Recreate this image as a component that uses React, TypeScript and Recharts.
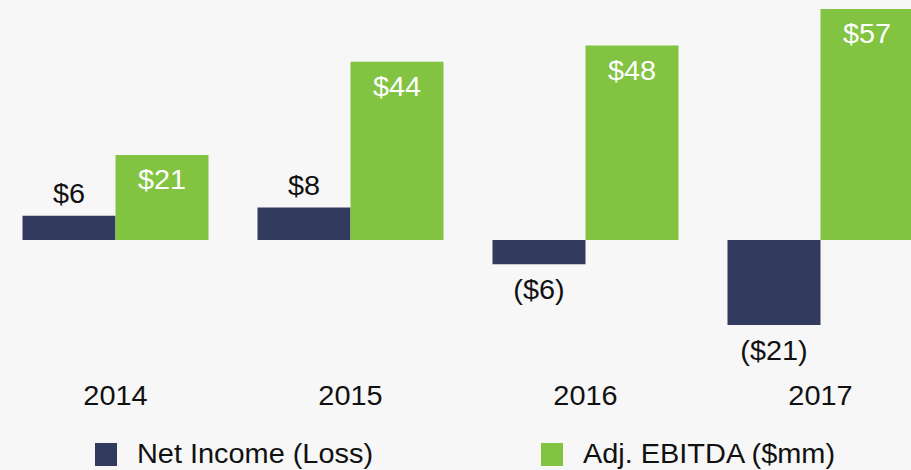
import React from "react";
import { BarChart, Bar, XAxis, YAxis, Legend, LabelList } from "recharts";

const years = ["2014", "2015", "2016", "2017"];
const netIncome = [6, 8, -6, -21];
const adjEbitda = [21, 44, 48, 57];

const NAVY = "#323a5e";
const GREEN = "#82c341";
const FONT = "'Liberation Sans', Arial, Helvetica, sans-serif";
const FS = 27;
const SX = 1.07; // reference text is slightly wide

const data = years.map((year, i) => ({
  year,
  net: netIncome[i],
  ebitda: adjEbitda[i],
}));

const fmt = (v: number) => (v < 0 ? `($${Math.abs(v)})` : `$${v}`);

function WideText({ x, y, fill, children }: any) {
  return (
    <text
      x={x}
      y={y}
      textAnchor="middle"
      fill={fill}
      fontSize={FS}
      fontFamily={FONT}
      transform={`translate(${x} 0) scale(${SX} 1) translate(${-x} 0)`}
    >
      {children}
    </text>
  );
}

function NetLabel(props: any) {
  const { x, y, width, height, value } = props;
  const top = Math.min(y, y + height);
  const bottom = Math.max(y, y + height);
  const ty = value < 0 ? bottom + 35 : top - 13;
  return (
    <WideText x={x + width / 2} y={ty} fill="#111">
      {fmt(value)}
    </WideText>
  );
}

function EbitdaLabel(props: any) {
  const { x, y, width, value } = props;
  return (
    <WideText x={x + width / 2} y={y + 34} fill="#fff">
      {fmt(value)}
    </WideText>
  );
}

function YearTick(props: any) {
  const { x, y, payload } = props;
  return (
    <WideText x={x} y={y + 36} fill="#111">
      {payload.value}
    </WideText>
  );
}

function LegendBox() {
  const items = [
    { name: "Net Income (Loss)", color: NAVY, left: 97 },
    { name: "Adj. EBITDA ($mm)", color: GREEN, left: 543 },
  ];
  return (
    <div style={{ position: "relative", height: 40, fontFamily: FONT }}>
      {items.map((it) => (
        <div key={it.name} style={{ position: "absolute", left: it.left, top: 11, display: "flex", alignItems: "center" }}>
          <span style={{ display: "inline-block", width: 22, height: 23, background: it.color }} />
          <span
            style={{
              marginLeft: 20,
              fontSize: FS,
              color: "#111",
              lineHeight: "26px",
              whiteSpace: "nowrap",
              transform: `scaleX(${SX})`,
              transformOrigin: "left center",
            }}
          >
            {it.name}
          </span>
        </div>
      ))}
    </div>
  );
}

export default function App() {
  return (
    <div
      style={{
        position: "fixed",
        left: 0,
        top: 0,
        width: 911,
        height: 470,
        overflow: "hidden",
        background: "#f7f7f7",
      }}
    >
      <div style={{ position: "absolute", left: -2, top: 0 }}>
        <BarChart
          width={940}
          height={470}
          data={data}
          margin={{ top: 0, right: 0, bottom: 0, left: 0 }}
          barCategoryGap={24.5}
          barGap={0}
        >
          <XAxis dataKey="year" axisLine={false} tickLine={false} height={68.5} tick={<YearTick />} interval={0} />
          <YAxis hide domain={[-30, 59.25]} allowDataOverflow />
          <Legend verticalAlign="bottom" height={40} content={<LegendBox />} />
          <Bar dataKey="net" fill={NAVY} isAnimationActive={false}>
            <LabelList dataKey="net" content={<NetLabel />} />
          </Bar>
          <Bar dataKey="ebitda" fill={GREEN} isAnimationActive={false}>
            <LabelList dataKey="ebitda" content={<EbitdaLabel />} />
          </Bar>
        </BarChart>
      </div>
    </div>
  );
}
